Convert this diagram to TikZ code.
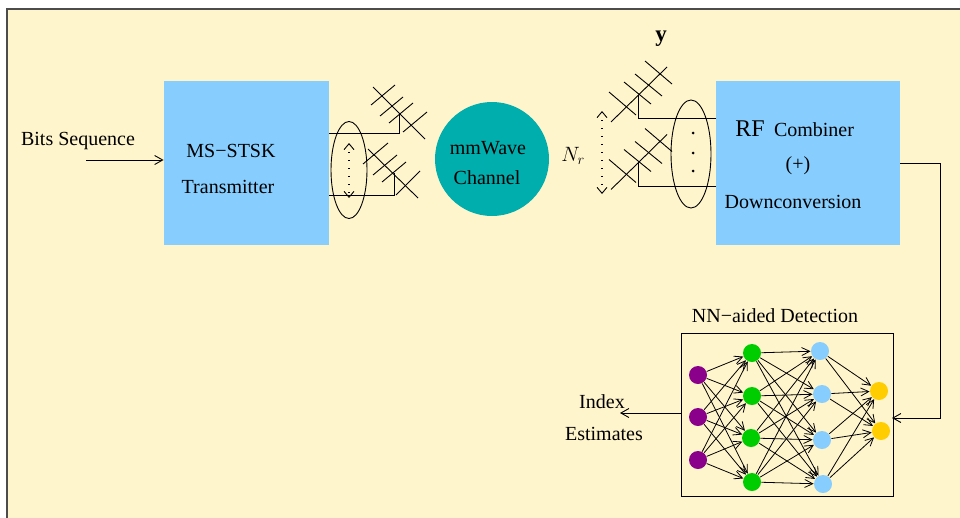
\documentclass[tikz,border=0pt]{standalone}
\usepackage{fontspec}
\setmainfont{Liberation Serif}
\usetikzlibrary{arrows.meta}
\definecolor{bgcol}{HTML}{FFF5CC}
\definecolor{boxcol}{HTML}{87CEFF}
\definecolor{chancol}{HTML}{00AEAE}
\definecolor{incol}{HTML}{8B008B}
\definecolor{hidcol}{HTML}{00CD00}
\definecolor{outcol}{HTML}{FFCD00}
\begin{document}
\begin{tikzpicture}
[x=1pt,y=-1pt,line width=0.9pt,
 every node/.style={font=\fontsize{20}{24}\selectfont,inner sep=0pt},
 be/.style={draw=black,arrows={-Straight Barb[length=8pt,width=9pt]}},
 nb/.style={draw=black,line width=0.8pt,arrows={-Straight Barb[length=8pt,width=8pt]}},
 dots/.style={draw=black,line width=1.2pt,dash pattern=on 1.2pt off 6.8pt,arrows={Straight Barb[length=6pt,width=10pt,line width=0.9pt]-Straight Barb[length=6pt,width=10pt,line width=0.9pt]}},
 blockbox/.style={fill=boxcol,minimum height=164pt},
 neuron/.style={circle,minimum size=18pt},
 ant/.style={draw=black,line width=0.9pt}]
\useasboundingbox (0,0) rectangle (960,517);
\draw[fill=bgcol,draw=black!70,line width=1.2pt] (7,9) rectangle (965,525);

\node[blockbox,minimum width=165pt] (txbox) at (246.5,163) {};
\node[blockbox,minimum width=184pt] (rxbox) at (808,163) {};
\node[circle,fill=chancol,minimum size=114pt] (chan) at (492,159) {};
\node[draw=black,line width=0.9pt,minimum width=212pt,minimum height=163pt] (nnbox) at (787,414.5) {};

\node (bits) at (78,141) {Bits Sequence};
\node (mstsk) at (231,151) {MS−STSK};
\node (trans) at (228,187) {Transmitter};
\node (mm) at (488,148) {mmWave};
\node (chtxt) at (487,178) {Channel};
\node[font=\fontsize{22}{26}\selectfont] (nr) at (573,156) {$N_r$};
\node[font=\fontsize{23}{27}\selectfont] (yvec) at (661,39) {$\mathbf{y}$};
\node[font=\fontsize{24}{28}\selectfont] (rf) at (750,129) {RF};
\node (comb) at (814,130) {Combiner};
\node (plus) at (798,166) {(+)};
\node (down) at (793,202) {Downconversion};
\node (nntxt) at (775,316) {NN−aided Detection};
\node (index) at (602,402) {Index};
\node (est) at (604,434) {Estimates};

% transmit antennas
\foreach \xa/\ya/\xb/\yb in {373/87/425/139,371/105/395/85,380/116/403/97,389/123/413/103,403/132/427/112,
  368/149/418/198,363/164/388/143,373/175/397/155,382/182/406/162,396/195/420/171}
  \draw[ant] (\xa,\ya) -- (\xb,\yb);
\coordinate (TA) at (399,113);
\coordinate (TB) at (394,173);
\coordinate (TAA) at (329,133);
\coordinate (TBA) at (329,195);
\draw (TAA) -| (TA);
\draw (TBA) -| (TB);
\draw (349,170) ellipse [x radius=18,y radius=48.5];
\coordinate (TU) at (349,143);
\coordinate (TD) at (349,198);
\draw[dots] (TU) -- (TD);

% receive antennas
\foreach \dy in {0,67.5}{
  \foreach \xa/\ya/\xb/\yb in {611/122/667/67,609/92/636/115,624/82/651/104,635/74/662/96,645/61/672/84}
    \draw[ant] (\xa,\ya+\dy) -- (\xb,\yb+\dy);
}
\coordinate (RA) at (638,95);
\coordinate (RB) at (638,162);
\coordinate (RAA) at (716,118);
\coordinate (RBA) at (716,186);
\draw (RAA) -| (RA);
\draw (RBA) -| (RB);
\draw (691,154) ellipse [x radius=20,y radius=54];
\foreach \y in {133,153,171}
  \fill (693,\y) circle [radius=1.5pt];
\coordinate (RU) at (602,111);
\coordinate (RD) at (602,194);
\draw[dots] (RU) -- (RD);

% network layers
\foreach \n/\x/\y in {1/698/375,2/698/417,3/698/460}
  \node[neuron,fill=incol] (I\n) at (\x,\y) {};
\foreach \n/\x/\y in {1/752/353,2/752/396,3/751/438,4/752/482}
  \node[neuron,fill=hidcol] (G\n) at (\x,\y) {};
\foreach \n/\x/\y in {1/820/351,2/822/394,3/822/440,4/823/484}
  \node[neuron,fill=boxcol] (B\n) at (\x,\y) {};
\foreach \n/\x/\y in {1/879/391,2/881/431}
  \node[neuron,fill=outcol] (Y\n) at (\x,\y) {};

\foreach \a in {1,2,3}
  \foreach \b in {1,2,3,4}
    \draw[nb] (I\a) -- (G\b);
\foreach \a in {1,2,3,4}
  \foreach \b in {1,2,3,4}
    \draw[nb] (G\a) -- (B\b);
\foreach \a in {1,2,3,4}
  \foreach \b in {1,2}
    \draw[nb] (B\a) -- (Y\b);

% connectors
\coordinate (BS) at (86,160);
\coordinate (NI) at (892,418);
\coordinate (NO) at (681,413);
\coordinate (IE) at (620,413);
\draw[be] (BS) -- (txbox.west |- BS);
\draw[be] (rxbox.east) -- ++(40,0) |- (NI);
\draw[be] (NO) -- (IE);
\end{tikzpicture}
\end{document}
